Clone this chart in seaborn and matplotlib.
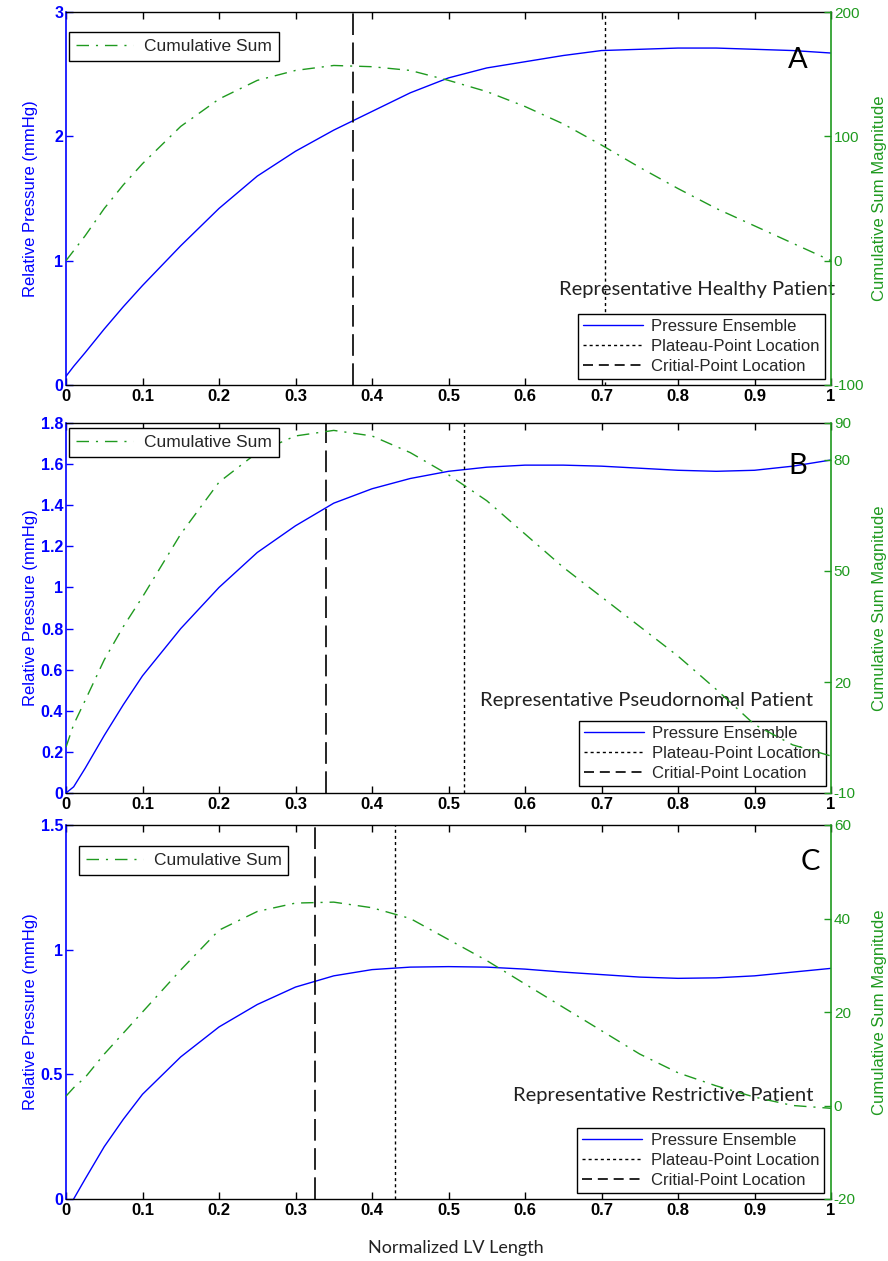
import matplotlib
matplotlib.use("Agg")
import matplotlib.pyplot as plt
import seaborn as sns
import pandas as pd
from matplotlib.lines import Line2D
from matplotlib.ticker import FuncFormatter

# ---------------- data ----------------
x_norm = [0.0, 0.01, 0.025, 0.05, 0.075, 0.1, 0.15, 0.2, 0.25, 0.3, 0.35, 0.4,
          0.45, 0.5, 0.55, 0.6, 0.65, 0.7, 0.75, 0.8, 0.85, 0.9, 0.95, 1.0]

pressure_A = [0.07, 0.15, 0.26, 0.45, 0.63, 0.80, 1.12, 1.42, 1.68, 1.88, 2.05, 2.20,
              2.35, 2.47, 2.55, 2.60, 2.65, 2.69, 2.70, 2.71, 2.71, 2.70, 2.69, 2.67]
cumsum_A = [0, 8, 20, 42, 61, 78, 108, 130, 145, 153, 157, 156,
            153, 145, 136, 124, 110, 93, 75, 58, 42, 28, 14, 0]

pressure_B = [0.0, 0.03, 0.12, 0.28, 0.43, 0.57, 0.80, 1.00, 1.17, 1.30, 1.41, 1.48,
              1.53, 1.565, 1.585, 1.595, 1.595, 1.59, 1.58, 1.57, 1.565, 1.57, 1.59, 1.62]
cumsum_B = [2.4, 8.5, 15, 26, 35, 43, 60, 74, 82, 86.5, 88, 86.5,
            82, 76, 69, 60, 51, 43, 35, 27, 18, 8.5, 3, 0]

pressure_C = [-0.04, 0.0, 0.08, 0.21, 0.32, 0.42, 0.57, 0.69, 0.78, 0.85, 0.895, 0.92,
              0.93, 0.932, 0.93, 0.922, 0.91, 0.90, 0.89, 0.885, 0.887, 0.895, 0.91, 0.925]
cumsum_C = [2, 3.8, 6, 11, 15.5, 20, 29, 37.5, 41.5, 43.3, 43.5, 42.3,
            40, 35.5, 31, 26, 21, 16, 11, 7, 4.2, 1.8, 0, -0.6]

critical_x = [0.375, 0.34, 0.326]
plateau_x = [0.705, 0.52, 0.43]

panel_letters = ["A", "B", "C"]
patient_labels = ["Representative Healthy Patient",
                  "Representative Pseudornomal Patient",
                  "Representative Restrictive Patient"]

left_ylims = [(0, 3), (0, 1.8), (0, 1.5)]
left_yticks = [[0, 1, 2, 3],
               [0, 0.2, 0.4, 0.6, 0.8, 1, 1.2, 1.4, 1.6, 1.8],
               [0, 0.5, 1, 1.5]]
right_ylims = [(-100, 200), (-10, 90), (-20, 60)]
right_yticks = [[-100, 0, 100, 200], [-10, 20, 50, 80, 90], [-20, 0, 20, 40, 60]]
x_ticks = [0, 0.1, 0.2, 0.3, 0.4, 0.5, 0.6, 0.7, 0.8, 0.9, 1.0]

legend_main = ["Pressure Ensemble", "Plateau-Point Location", "Critial-Point Location"]
legend_cs = "Cumulative Sum"

# ---------------- style ----------------
sns.set_style("white")
plt.rcParams["font.family"] = ["Liberation Sans", "DejaVu Sans"]
BLUE = "#0000ff"
GREEN = "#1f9a1f"
CAL = ["Lato", "Open Sans", "DejaVu Sans"]

W, H = 888, 1261
fig = plt.figure(figsize=(W / 100, H / 100), dpi=100)

panels_px = [(12, 385), (423, 793), (825, 1199)]
x0, x1 = 66, 831

pressures = [pressure_A, pressure_B, pressure_C]
cumsums = [cumsum_A, cumsum_B, cumsum_C]

leg1_anchor = [(0.004, 0.946), (0.004, 0.986), (0.017, 0.944)]
leg2_anchor = [(0.992, 0.016), (0.993, 0.019), (0.991, 0.016)]
text_pos = [(0.825, 0.255), (0.759, 0.251), (0.780, 0.278)]
letter_pos = [(0.957, 0.871), (0.956, 0.884), (0.973, 0.901)]

fmt = FuncFormatter(lambda v, p: ("%g" % v))

for i in range(3):
    top, bot = panels_px[i]
    ax = fig.add_axes([x0 / W, 1 - bot / H, (x1 - x0) / W, (bot - top) / H])
    df = pd.DataFrame({"x": x_norm, "p": pressures[i], "c": cumsums[i]})

    sns.lineplot(data=df, x="x", y="p", ax=ax, color=BLUE, lw=1.0,
                 estimator=None, sort=False)
    pl = ax.axvline(plateau_x[i], color="black", lw=1.0)
    pl.set_dashes([2.2, 2.2])
    cl = ax.axvline(critical_x[i], color="black", lw=1.2)
    cl.set_dashes([13, 4.5])

    ax.set_xlim(0, 1)
    ax.set_ylim(*left_ylims[i])
    ax.set_xticks(x_ticks)
    ax.set_yticks(left_yticks[i])
    ax.xaxis.set_major_formatter(fmt)
    ax.yaxis.set_major_formatter(fmt)
    ax.set_xlabel("")
    ax.set_ylabel("Relative Pressure (mmHg)", color=BLUE, fontsize=12)
    ax.yaxis.set_label_coords(-0.036, 0.5)

    ax.tick_params(axis="x", direction="in", length=5, width=1, top=True,
                   bottom=True, colors="black", labelsize=12, pad=3)
    ax.tick_params(axis="y", direction="in", length=5, width=1, left=True,
                   right=True, colors=BLUE, labelsize=11.5, pad=2)
    for lab in ax.get_xticklabels() + ax.get_yticklabels():
        lab.set_fontweight("bold")
    for s in ["top", "bottom"]:
        ax.spines[s].set_color("black")
        ax.spines[s].set_linewidth(1.0)
    ax.spines["left"].set_color(BLUE)
    ax.spines["left"].set_linewidth(1.2)
    ax.spines["right"].set_visible(False)

    handles = [Line2D([], [], color=BLUE, lw=1.0),
               Line2D([], [], color="black", lw=1.0, dashes=[2.2, 2.2]),
               Line2D([], [], color="black", lw=1.2, dashes=[6, 3.5])]
    ax.legend(handles, legend_main, loc="lower right", bbox_to_anchor=leg2_anchor[i],
              borderaxespad=0, frameon=True, fancybox=False, edgecolor="black",
              framealpha=1, fontsize=12, handlelength=3.6, handletextpad=0.5,
              labelspacing=0.3, borderpad=0.3)

    ax.text(*text_pos[i], patient_labels[i], transform=ax.transAxes, ha="center",
            va="center", fontsize=14.5, family=CAL, color="#222222")
    ax.text(*letter_pos[i], panel_letters[i], transform=ax.transAxes, ha="center",
            va="center", fontsize=21, family=CAL, color="black")

    ax2 = ax.twinx()
    sns.lineplot(data=df, x="x", y="c", ax=ax2, color=GREEN, lw=1.0,
                 estimator=None, sort=False)
    ax2.lines[-1].set_dashes([9, 5, 1.5, 5])
    ax2.set_ylim(*right_ylims[i])
    ax2.set_yticks(right_yticks[i])
    ax2.yaxis.set_major_formatter(fmt)
    ax2.set_xlabel("")
    ax2.set_ylabel("Cumulative Sum Magnitude", color=GREEN, fontsize=12)
    ax2.yaxis.set_label_coords(1.054, 0.5)
    ax2.tick_params(axis="y", direction="in", length=5, width=1, colors=GREEN,
                    labelsize=11, pad=2)
    for s in ["top", "bottom", "left"]:
        ax2.spines[s].set_visible(False)
    ax2.spines["right"].set_color(GREEN)
    ax2.spines["right"].set_linewidth(1.2)
    ax2.set_xlim(0, 1)

    h2 = [Line2D([], [], color=GREEN, lw=1.0, dashes=[9, 5, 1.5, 5])]
    ax2.legend(h2, [legend_cs], loc="upper left", bbox_to_anchor=leg1_anchor[i],
               borderaxespad=0, frameon=True, fancybox=False, edgecolor="black",
               framealpha=1, fontsize=12.5, handlelength=3.3, handletextpad=0.6,
               borderpad=0.4)

    if i == 2:
        ax.set_xlabel("Normalized LV Length", fontsize=13, family=CAL, color="#222222")
        ax.xaxis.set_label_coords(0.51, -0.11)

fig.savefig("out.png", dpi=100)
